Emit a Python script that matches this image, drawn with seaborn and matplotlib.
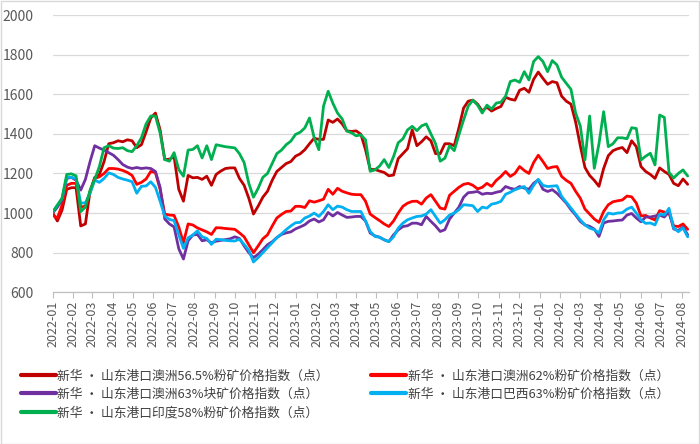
import pandas as pd
import numpy as np
import matplotlib.pyplot as plt
import matplotlib.dates as mdates
from matplotlib.lines import Line2D
from matplotlib.patches import Rectangle
import seaborn as sns

# ── weekly index values (2022-01 .. 2024-08) ─────────────────────────────────

dates = pd.date_range("2022-01-01", periods=137, freq="7D")

names = [
    "新华 · 山东港口澳洲56.5%粉矿价格指数（点）",
    "新华 · 山东港口澳洲62%粉矿价格指数（点）",
    "新华 · 山东港口澳洲63%块矿价格指数（点）",
    "新华 · 山东港口巴西63%粉矿价格指数（点）",
    "新华 · 山东港口印度58%粉矿价格指数（点）",
]
colors = ["#C00000", "#FF0000", "#7030A0", "#00B0F0", "#00B050"]

aus565 = [1000, 960, 1015, 1120, 1128, 1128, 935, 945, 1110, 1180, 1195, 1260, 1350, 1355, 1365, 1360,
          1370, 1365, 1330, 1345, 1410, 1480, 1505, 1420, 1270, 1272, 1284, 1120, 1060, 1190, 1178, 1180,
          1170, 1186, 1140, 1195, 1212, 1225, 1228, 1228, 1175, 1140, 1075, 995, 1035, 1080, 1110, 1165,
          1210, 1230, 1250, 1260, 1287, 1299, 1320, 1350, 1378, 1372, 1372, 1470, 1458, 1475, 1450, 1415,
          1412, 1415, 1398, 1320, 1220, 1220, 1212, 1205, 1188, 1192, 1275, 1300, 1325, 1420, 1340, 1360,
          1385, 1365, 1300, 1300, 1350, 1350, 1340, 1430, 1530, 1565, 1570, 1550, 1515, 1535, 1515, 1528,
          1538, 1585, 1575, 1570, 1620, 1630, 1610, 1675, 1712, 1680, 1650, 1664, 1658, 1590, 1565, 1550,
          1460, 1340, 1230, 1190, 1165, 1135, 1225, 1290, 1315, 1325, 1331, 1305, 1365, 1335, 1235, 1210,
          1195, 1175, 1228, 1210, 1195, 1150, 1138, 1172, 1145]

aus62 = [990, 975, 1040, 1140, 1150, 1150, 1030, 1035, 1105, 1175, 1183, 1200, 1225, 1225, 1222, 1215,
         1205, 1190, 1145, 1155, 1172, 1210, 1205, 1120, 995, 990, 988, 930, 850, 945, 940, 925,
         915, 905, 892, 926, 925, 922, 920, 918, 900, 880, 840, 800, 834, 870, 890, 934,
         975, 993, 1008, 1010, 1034, 1034, 1028, 1062, 1055, 1062, 1070, 1120, 1095, 1125, 1110, 1102,
         1095, 1093, 1093, 1060, 995, 978, 962, 945, 932, 960, 1000, 1034, 1050, 1059, 1060, 1045,
         1076, 1093, 1059, 1025, 1020, 1090, 1110, 1130, 1145, 1150, 1140, 1122, 1130, 1150, 1135, 1165,
         1185, 1210, 1185, 1200, 1235, 1215, 1200, 1255, 1292, 1260, 1225, 1232, 1235, 1185, 1165, 1150,
         1110, 1075, 1020, 995, 970, 953, 1008, 1042, 1057, 1062, 1066, 1086, 1082, 1050, 985, 988,
         975, 965, 1012, 1005, 1000, 935, 932, 945, 918]

aus63_lump = [1000, 1030, 1066, 1175, 1180, 1166, 1116, 1170, 1260, 1340, 1328, 1318, 1305, 1292, 1270, 1245,
              1232, 1225, 1230, 1225, 1228, 1225, 1210, 1130, 970, 945, 930, 820, 768, 860, 889, 892,
              860, 865, 850, 858, 862, 866, 870, 880, 872, 834, 800, 775, 792, 815, 840, 855,
              876, 892, 900, 905, 920, 930, 941, 960, 970, 955, 966, 1003, 985, 1003, 990, 978,
              980, 983, 983, 960, 899, 885, 878, 865, 856, 890, 915, 932, 936, 949, 949, 941,
              983, 958, 935, 907, 916, 970, 1000, 1030, 1080, 1103, 1105, 1109, 1095, 1100, 1098, 1105,
              1110, 1134, 1125, 1120, 1134, 1126, 1120, 1150, 1168, 1120, 1109, 1118, 1100, 1076, 1050, 1017,
              990, 958, 940, 933, 919, 882, 950, 958, 960, 963, 965, 990, 998, 975, 956, 980,
              980, 985, 990, 980, 1007, 920, 912, 930, 890]

bra63 = [1007, 1040, 1074, 1182, 1180, 1175, 1050, 1052, 1100, 1166, 1155, 1175, 1203, 1195, 1180, 1172,
         1166, 1158, 1100, 1135, 1137, 1158, 1130, 1060, 985, 968, 962, 890, 822, 875, 889, 910,
         880, 872, 842, 868, 866, 862, 860, 859, 868, 842, 812, 753, 775, 800, 825, 850,
         876, 895, 916, 935, 951, 953, 975, 985, 1000, 983, 1008, 1042, 1017, 1035, 1030, 1017,
         1008, 1008, 1008, 960, 907, 882, 878, 865, 856, 880, 924, 949, 966, 975, 983, 985,
         995, 1017, 983, 949, 966, 990, 1000, 1017, 1042, 1040, 1037, 1008, 1030, 1025, 1045, 1050,
         1059, 1095, 1105, 1118, 1126, 1134, 1100, 1140, 1170, 1140, 1134, 1136, 1138, 1084, 1055, 1025,
         995, 966, 940, 924, 916, 899, 966, 1000, 995, 1000, 1002, 1020, 1030, 1000, 965, 948,
         950, 940, 995, 990, 1024, 925, 906, 925, 880]

ind58 = [1005, 1040, 1074, 1195, 1198, 1188, 1007, 1030, 1115, 1170, 1235, 1330, 1340, 1328, 1326, 1330,
         1315, 1310, 1340, 1380, 1450, 1490, 1490, 1405, 1270, 1262, 1305, 1220, 1186, 1318, 1321, 1340,
         1278, 1340, 1270, 1345, 1340, 1335, 1332, 1329, 1300, 1255, 1150, 1080, 1125, 1180, 1200, 1250,
         1300, 1318, 1345, 1363, 1397, 1408, 1430, 1480, 1380, 1320, 1540, 1615, 1555, 1505, 1475, 1414,
         1405, 1390, 1395, 1370, 1211, 1218, 1237, 1270, 1230, 1285, 1355, 1375, 1420, 1438, 1416, 1440,
         1450, 1400, 1350, 1262, 1277, 1340, 1315, 1395, 1470, 1540, 1570, 1545, 1505, 1545, 1525, 1555,
         1560, 1590, 1664, 1672, 1660, 1714, 1672, 1765, 1790, 1765, 1714, 1770, 1748, 1686, 1655, 1625,
         1505, 1440, 1268, 1490, 1226, 1350, 1512, 1335, 1350, 1380, 1380, 1375, 1431, 1427, 1268, 1287,
         1302, 1243, 1495, 1483, 1205, 1177, 1200, 1218, 1187]

df = pd.DataFrame({"date": dates, names[0]: aus565, names[1]: aus62, names[2]: aus63_lump,
                   names[3]: bra63, names[4]: ind58})
long = df.melt(id_vars="date", var_name="series", value_name="value")

# ── plot ──────────────────────────────────────────────────────────────────────

sns.set_theme(style="white")
plt.rcParams["font.family"] = ["Noto Sans CJK SC", "DejaVu Sans"]
grey_txt = "#595959"

fig = plt.figure(figsize=(7, 4.44), dpi=100)
ax = fig.add_axes([0.0753, 0.3417, 0.909, 0.6245])

sns.lineplot(data=long, x="date", y="value", hue="series", hue_order=names,
             palette=dict(zip(names, colors)), linewidth=2.0, legend=False, ax=ax)

ax.set_ylim(600, 2000)
ax.set_yticks(range(600, 2001, 200))
ax.set_xlim(pd.Timestamp("2022-01-01"), pd.Timestamp("2024-08-12"))
ax.xaxis.set_major_locator(mdates.MonthLocator())
ax.xaxis.set_major_formatter(mdates.DateFormatter("%Y-%m"))
ax.set_xlabel("")
ax.set_ylabel("")

ax.grid(axis="y", color="#d9d9d9", linewidth=0.9)
ax.grid(axis="x", visible=False)
ax.set_axisbelow(True)
for s in ["top", "right", "left"]:
    ax.spines[s].set_visible(False)
ax.spines["bottom"].set_color("#bfbfbf")
ax.spines["bottom"].set_linewidth(0.9)

ax.tick_params(axis="x", which="major", bottom=True, direction="out", length=4,
               width=0.8, color="#bfbfbf", labelsize=9, labelcolor=grey_txt,
               labelrotation=90, pad=2)
ax.tick_params(axis="y", left=False, labelsize=10, labelcolor=grey_txt, pad=8)

# legend: row order as in the original (two columns)
order = [0, 2, 4, 1, 3]
handles = [Line2D([], [], color=colors[i], linewidth=3) for i in order]
labels = [names[i] for i in order]
fig.legend(handles, labels, ncol=2, loc="upper left", bbox_to_anchor=(0.03, 0.168),
           frameon=False, fontsize=9.2, handlelength=2.7, handletextpad=0.15,
           columnspacing=3.3, labelspacing=0.42, borderpad=0, borderaxespad=0,
           labelcolor="#404040")

# chart-area border
fig.patches.append(Rectangle((0.001, 0.001), 0.998, 0.997, transform=fig.transFigure,
                             fill=False, edgecolor="#d9d9d9", linewidth=1))

fig.savefig("out.png", dpi=100)
